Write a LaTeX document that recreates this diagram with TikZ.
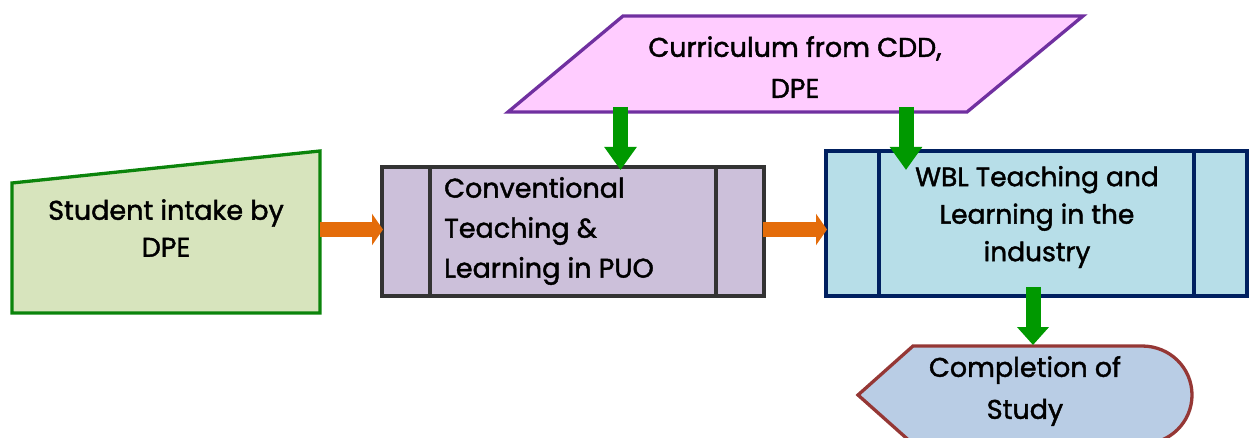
\documentclass[tikz,border=0pt]{standalone}
\usepackage{fontspec}
\setmainfont{Poppins}[FakeBold=1.6]
\usetikzlibrary{arrows.meta}
\definecolor{gfill}{HTML}{D7E4BD}
\definecolor{gdraw}{HTML}{0B840B}
\definecolor{pfill}{HTML}{CCC0DA}
\definecolor{pdraw}{HTML}{333333}
\definecolor{bfill}{HTML}{B7DEE8}
\definecolor{bdraw}{HTML}{002060}
\definecolor{cfill}{HTML}{FFCCFF}
\definecolor{cdraw}{HTML}{7030A0}
\definecolor{efill}{HTML}{B9CDE5}
\definecolor{edraw}{HTML}{953735}
\definecolor{oarrow}{HTML}{E46C0A}
\definecolor{garrow}{HTML}{009900}
\tikzset{
  shapeline/.style={line width=3.3pt, line join=miter},
  lbl/.style={font=\fontsize{27}{38}\selectfont, inner sep=0pt, text=black},
  orangearrow/.style={draw=oarrow, line width=15pt, line cap=butt, -{Triangle[width=31pt,length=11pt]}},
  greenarrow/.style={draw=garrow, line width=15pt, line cap=butt, -{Triangle[width=31pt,length=23pt]}},
}
\begin{document}
\begin{tikzpicture}[x=1pt,y=-1pt]
\useasboundingbox (0,0) rectangle (1255,438);
\clip (0,0) rectangle (1255,438);
% Student intake (manual input)
\draw[shapeline, draw=gdraw, fill=gfill] (12,183) -- (320,151) -- (320,313) -- (12,313) -- cycle;
\node[lbl, align=center, font=\fontsize{27}{37}\selectfont] (intake) at (166,228) {Student intake by\\DPE};
% Curriculum (parallelogram)
\draw[shapeline, draw=cdraw, fill=cfill] (508,112) -- (623,16) -- (1083,16) -- (967,112) -- cycle;
\node[lbl, align=center, font=\fontsize{27}{41}\selectfont] (curr) at (795,67) {Curriculum from CDD,\\DPE};
% Conventional (predefined process)
\draw[shapeline, draw=pdraw, fill=pfill] (382,167) rectangle (764,296);
\draw[shapeline, draw=pdraw] (430,167) -- (430,296) (716,167) -- (716,296);
\node[lbl, align=left, anchor=west, font=\fontsize{27}{40}\selectfont] (conv) at (444,231) {Conventional\\Teaching \&\\Learning in PUO};
% WBL (predefined process)
\draw[shapeline, draw=bdraw, fill=bfill] (826,151) rectangle (1247,296);
\draw[shapeline, draw=bdraw] (879,151) -- (879,296) (1194,151) -- (1194,296);
\node[lbl, align=center, font=\fontsize{26.5}{37.5}\selectfont] (wbl) at (1037,217) {WBL Teaching and\\Learning in the\\industry};
% Completion (display)
\draw[shapeline, draw=edraw, fill=efill] (858,395) -- (913,346) -- (1142,346)
  .. controls (1170,346) and (1192,368) .. (1192,395)
  .. controls (1192,422) and (1170,444) .. (1142,444) -- (913,444) -- cycle;
\node[lbl, align=center, font=\fontsize{27}{42}\selectfont] (done) at (1025,391) {Completion of\\Study};
% connector end points
\coordinate (o1s) at (320,229.5);
\coordinate (o1e) at (383,229.5);
\coordinate (o2s) at (763,229.5);
\coordinate (o2e) at (827,229.5);
\coordinate (g1s) at (620.5,107);
\coordinate (g1e) at (620.5,170);
\coordinate (g2s) at (906,107);
\coordinate (g2e) at (906,170);
\coordinate (g3s) at (1033,287);
\coordinate (g3e) at (1033,345);
\draw[orangearrow] (o1s) -- (o1e);
\draw[orangearrow] (o2s) -- (o2e);
\draw[greenarrow] (g1s) -- (g1e);
\draw[greenarrow] (g2s) -- (g2e);
\draw[greenarrow, -{Triangle[width=31pt,length=18pt]}] (g3s) -- (g3e);
\end{tikzpicture}
\end{document}
